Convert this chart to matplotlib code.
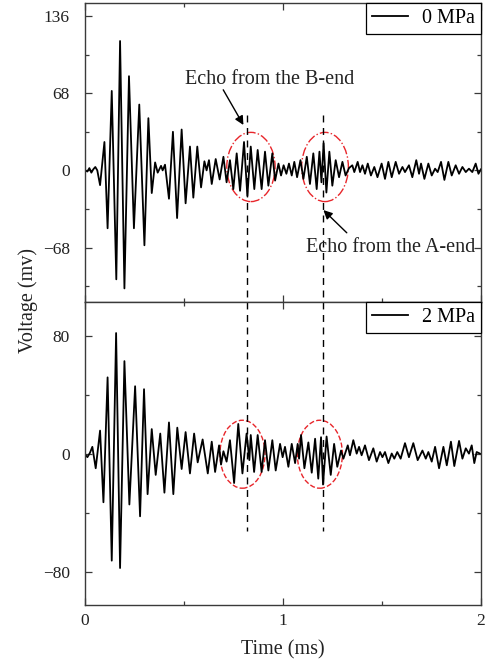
import matplotlib
matplotlib.use("Agg")
import matplotlib.pyplot as plt
from matplotlib.patches import Ellipse
from matplotlib.ticker import MultipleLocator

plt.rcParams['font.family'] = ['Liberation Serif', 'DejaVu Serif']

# 0 MPa signal: time (ms) and voltage (mV) at the turning points of the trace
t_0mpa = [0.000, 0.012, 0.022, 0.032, 0.042, 0.052, 0.062, 0.076, 0.098, 0.114,
          0.135, 0.158, 0.177, 0.199, 0.222, 0.247, 0.274, 0.300, 0.320, 0.337,
          0.354, 0.367, 0.384, 0.392, 0.404, 0.424, 0.444, 0.465, 0.488, 0.508,
          0.530, 0.547, 0.567, 0.586, 0.603, 0.614, 0.626, 0.640, 0.660, 0.680,
          0.699, 0.715, 0.732, 0.749, 0.766, 0.783, 0.803, 0.820, 0.837, 0.855,
          0.872, 0.892, 0.909, 0.926, 0.946, 0.960, 0.977, 0.990, 1.003, 1.017,
          1.030, 1.044, 1.057, 1.071, 1.088, 1.103, 1.120, 1.136, 1.153, 1.170,
          1.184, 1.194, 1.205, 1.219, 1.234, 1.249, 1.266, 1.283, 1.300, 1.316,
          1.333, 1.350, 1.360, 1.377, 1.389, 1.401, 1.414, 1.428, 1.444, 1.461,
          1.477, 1.498, 1.515, 1.532, 1.549, 1.569, 1.586, 1.603, 1.616, 1.636,
          1.653, 1.673, 1.687, 1.697, 1.714, 1.734, 1.751, 1.768, 1.781, 1.798,
          1.815, 1.835, 1.852, 1.872, 1.889, 1.906, 1.923, 1.939, 1.956, 1.973,
          1.987, 2.000]
v_0mpa = [0, -1, 2, -2, 1, 3, 0, -13, 25, -51,
          70, -96, 114, -104, 83, -51, 58, -66, 46, -20,
          7, -2, 4, 0, 5, -25, 34, -42, 36, -29,
          21, -24, 21, -15, 8, 0, 9, -12, 10, -8,
          12, -10.5, 9, -16.5, 15, -18, 25, -22.5, 21, -16.5,
          18, -16.5, 16.5, -13.5, 15, -9, 6, -4.5, 4.5, -3,
          6, -4.5, 7.5, -6, 9, -7.5, 12, -12, 15, -16.5,
          16.5, -10.5, 24, -19.5, 16.5, -13.5, 9, -6, 7.5, -4.5,
          2, 4.5, -1.5, 7.5, -1.5, 4.5, -3, 6, -4.5, 3,
          -6, 6, -7.5, 7.5, -6, 7.5, -3, 3, -1.5, 4.5,
          -6, 9, -3, 6, -7.5, 6, -4.5, 1.5, -1.5, 7.5,
          -8.4, 7.5, -4.5, 4.5, -3, 3, -1.5, 1.5, -1.5, 6,
          -3, 1]

# 2 MPa signal
t_2mpa = [0.000, 0.012, 0.025, 0.037, 0.054, 0.076, 0.093, 0.114, 0.135, 0.157,
          0.177, 0.199, 0.224, 0.253, 0.278, 0.298, 0.316, 0.337, 0.357, 0.380,
          0.401, 0.424, 0.446, 0.466, 0.488, 0.508, 0.530, 0.551, 0.569, 0.594,
          0.620, 0.640, 0.657, 0.677, 0.687, 0.699, 0.715, 0.732, 0.753, 0.774,
          0.795, 0.816, 0.830, 0.837, 0.854, 0.872, 0.892, 0.909, 0.926, 0.946,
          0.963, 0.985, 0.998, 1.010, 1.027, 1.044, 1.061, 1.074, 1.081, 1.091,
          1.108, 1.128, 1.145, 1.162, 1.178, 1.192, 1.202, 1.220, 1.241, 1.258,
          1.274, 1.293, 1.305, 1.327, 1.338, 1.355, 1.372, 1.384, 1.397, 1.414,
          1.434, 1.456, 1.473, 1.490, 1.502, 1.515, 1.532, 1.549, 1.562, 1.577,
          1.594, 1.616, 1.636, 1.658, 1.680, 1.704, 1.721, 1.734, 1.751, 1.768,
          1.788, 1.810, 1.827, 1.848, 1.865, 1.889, 1.906, 1.923, 1.939, 1.953,
          1.966, 1.978, 1.995]
v_2mpa = [0, -2, 1, 5, -9.5, 16, -32.5, 52, -72, 82,
          -77, 63, -34, 46, -42, 44, -27, 17, -14, 14,
          -26, 21.5, -27, 18, -10, 15, -13, 14, -5.5, 10,
          -13, 8.5, -12, 6, -7, 2, -5, 9.5, -19.5, 20.5,
          -13, 14, -4, 13, -12, 13, -12, 9.5, -11, 9.5,
          -11, 7, -2, 5, -8.5, 7, -6, 7, -3, 13,
          -9.5, 8, -12.5, 10.5, -16.5, 11.5, -20.5, 12, -14, 7,
          -8.5, 2.5, -3, 6, -0.7, 9.5, 0.4, 5, -0.7, 6,
          -4, 4, -5, 1.5, -2, 1.5, -6, 0.5, -3, 1.5,
          -3, 7.5, -2, 7.5, -4, 2.5, -3, 1.5, -5, 5,
          -9.5, 5, -7.5, 8.5, -8, 9, -3, 4, 0.4, 6,
          -6, 1.5, 0.4]

# echo positions (ms)
t_echo_b = 0.818
t_echo_a = 1.202

fig = plt.figure(figsize=(4.92, 6.67), dpi=100)
ax1 = fig.add_axes([0.1728, 0.5472, 0.8049, 0.4483])
ax2 = fig.add_axes([0.1728, 0.0930, 0.8049, 0.4542])

spine_col = '#3a3a3a'
tick_fs = 12.5
text_fs = 14.5

ax1.plot(t_0mpa, v_0mpa, color='black', lw=1.3, solid_joinstyle='round',
         label='0 MPa')
ax2.plot(t_2mpa, v_2mpa, color='black', lw=1.3, solid_joinstyle='round',
         label='2 MPa')

ax1.set_ylim(-116, 147.5)
ax2.set_ylim(-102, 103)
ax1.yaxis.set_major_locator(MultipleLocator(68))
ax1.yaxis.set_minor_locator(MultipleLocator(34))
ax2.yaxis.set_major_locator(MultipleLocator(80))
ax2.yaxis.set_minor_locator(MultipleLocator(40))

for ax in (ax1, ax2):
    ax.set_xlim(0, 2)
    ax.xaxis.set_major_locator(MultipleLocator(1))
    ax.xaxis.set_minor_locator(MultipleLocator(0.5))
    ax.tick_params(which='both', direction='in', top=True, right=True,
                   color=spine_col, labelsize=tick_fs, width=0.9,
                   labelcolor='#222222')
    ax.tick_params(which='major', length=5)
    ax.tick_params(which='minor', length=3)
    ax.tick_params(axis='y', pad=11)
    ax.tick_params(axis='x', pad=6)
    for s in ax.spines.values():
        s.set_color(spine_col)
        s.set_linewidth(1.0)
    leg = ax.legend(loc='upper right', borderaxespad=0, fancybox=False,
                    framealpha=1, edgecolor='black', fontsize=text_fs,
                    handlelength=1.8, handletextpad=0.7, borderpad=0.3)
    leg.get_frame().set_linewidth(0.9)

ax1.tick_params(labelbottom=False)

# vertical dashed markers through both panels
for t in (t_echo_b, t_echo_a):
    ax1.plot([t, t], [49, -116], color='black', lw=1.0, ls=(0, (5, 4)))
    ax2.plot([t, t], [103, -52], color='black', lw=1.0, ls=(0, (5, 4)))

# circled echoes
for t, w in ((0.838, 0.244), (1.212, 0.236)):
    ax1.add_patch(Ellipse((t, 3), w, 61, fill=False, edgecolor='#e8262b',
                          lw=1.0, ls='-.'))
for t in (0.795, 1.186):
    ax2.add_patch(Ellipse((t, 0), 0.228, 46, fill=False, edgecolor='#e8262b',
                          lw=1.0, ls='--'))

ax1.text(0.934, 80, 'Echo from the B-end', fontsize=text_fs, ha='center',
         va='center', color='#222222')
ax1.annotate('', xy=(0.80, 40), xytext=(0.698, 71),
             arrowprops=dict(arrowstyle='-|>', color='black', lw=1.0,
                             mutation_scale=13, shrinkA=0, shrinkB=0))
ax1.text(1.545, -68, 'Echo from the A-end', fontsize=text_fs, ha='center',
         va='center', color='#222222')
ax1.annotate('', xy=(1.204, -35), xytext=(1.322, -55),
             arrowprops=dict(arrowstyle='-|>', color='black', lw=1.0,
                             mutation_scale=13, shrinkA=0, shrinkB=0))

ax2.set_xlabel('Time (ms)', fontsize=text_fs, labelpad=8, color='#222222')
fig.text(0.057, 0.55, 'Voltage (mv)', rotation=90, fontsize=text_fs,
         ha='center', va='center', color='#222222')

fig.savefig('out.png', dpi=100)
